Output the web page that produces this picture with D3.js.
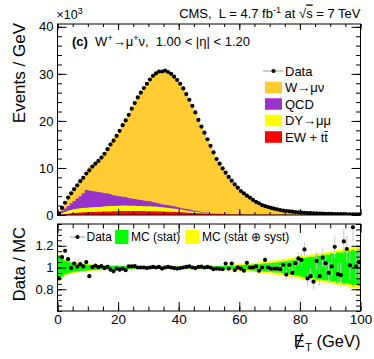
<!DOCTYPE html>
<html><head><meta charset="utf-8">
<script src="https://cdn.jsdelivr.net/npm/d3@7"></script>
<style>
body{margin:0;background:#fff}
svg{display:block}
text{font-family:"Liberation Sans",Arial,Helvetica,sans-serif;fill:#000;white-space:pre}
</style>
</head><body>
<svg id="chart" width="374" height="359"></svg>
<script>
// ---------- DATA (1 GeV bins from 0 to 100 GeV; yields in thousands of events / GeV) ----------
const binLow = d3.range(0, 100);

const dataYield = [
 0.35,1.5,2.6,3.7,4.6,5.5,6.3,7.2,7.9,8.8,
 9.5,10.3,10.9,11.5,12.2,13.0,14.0,15.0,15.8,16.8,
 17.9,19.1,20.1,21.3,22.6,23.8,25.0,26.0,27.0,27.9,
 28.8,29.6,30.1,30.5,30.5,30.7,30.4,30.0,29.4,28.7,
 27.9,26.9,25.7,24.5,23.2,21.8,20.2,18.8,17.5,16.1,
 14.7,13.3,11.9,10.9,9.9,9.0,8.1,7.3,6.5,5.8,
 5.1,4.6,4.1,3.7,3.2,2.8,2.5,2.1,1.9,1.7,
 1.5,1.35,1.2,1.05,0.95,0.85,0.78,0.7,0.63,0.57,
 0.52,0.47,0.43,0.39,0.36,0.33,0.30,0.28,0.26,0.24,
 0.22,0.20,0.19,0.18,0.17,0.16,0.15,0.14,0.13,0.12];

const wmunu = [
 0.09,0.47,0.85,1.54,2.12,2.30,2.76,2.98,3.22,3.08,
 5.13,5.17,5.71,6.57,7.26,8.47,9.32,10.91,12.17,12.87,
 14.27,15.39,16.82,17.49,18.88,20.12,21.70,22.80,23.90,25.04,
 25.90,26.70,27.50,27.90,28.51,28.50,28.15,28.05,27.70,27.29,
 26.49,25.50,24.27,23.11,22.20,21.03,19.32,17.97,16.90,15.50,
 14.25,13.10,11.67,10.72,9.78,8.44,7.97,6.86,6.49,5.65,
 5.01,4.62,3.81,3.59,3.11,2.68,2.51,2.03,1.71,1.65,
 1.47,1.31,1.17,1.03,0.89,0.87,0.72,0.71,0.58,0.50,
 0.46,0.37,0.45,0.39,0.38,0.28,0.30,0.23,0.22,0.22,
 0.20,0.15,0.18,0.17,0.12,0.12,0.13,0.08,0.11,0.09];

const qcd = [
 0.15,0.50,0.75,1.02,1.42,1.76,2.16,2.58,3.12,3.75,
 3.60,3.45,3.30,3.18,3.02,2.75,2.72,2.50,2.28,2.15,
 2.02,1.90,1.80,1.62,1.54,1.46,1.40,1.30,1.22,1.14,
 1.06,0.93,0.80,0.73,0.64,0.60,0.60,0.53,0.50,0.42,
 0.35,0.32,0.34,0.30,0.24,0.20,0.18,0.15,0.12,0.08,
 0.06,0.05,0.03,0.02,0.01,0.01,0.01,0.01,0.01,0.01,
 0.01,0.01,0.01,0.01,0.01,0.01,0,0,0,0,
 0,0,0,0,0,0,0,0,0,0,
 0,0,0,0,0,0,0,0,0,0,
 0,0,0,0,0,0,0,0,0,0];

const dymumu = [
 0.10,0.28,0.45,0.60,0.72,0.82,0.86,0.89,0.92,0.95,
 0.98,1.01,1.04,1.02,1.08,1.13,1.14,1.14,1.14,1.13,
 1.14,1.15,1.14,1.14,1.10,1.09,1.06,1.04,1.05,1.04,
 1.04,1.04,1.00,0.96,0.92,0.90,0.82,0.76,0.71,0.64,
 0.60,0.52,0.44,0.37,0.32,0.26,0.22,0.18,0.16,0.14,
 0.12,0.11,0.10,0.09,0.08,0.07,0.06,0.05,0.05,0.04,
 0.04,0.03,0.03,0.03,0.02,0.02,0.02,0.02,0.02,0.01,
 0.01,0.01,0.01,0.01,0.01,0.01,0.01,0.01,0.01,0.01,
 0.01,0.01,0.01,0.01,0.01,0.01,0.01,0.01,0.01,0.01,
 0.01,0.01,0.01,0.01,0.01,0.01,0.01,0.01,0.01,0.01];

const ewtt = [
 0.05,0.12,0.20,0.28,0.36,0.42,0.48,0.53,0.56,0.60,
 0.62,0.64,0.66,0.70,0.70,0.72,0.74,0.76,0.78,0.82,
 0.84,0.85,0.86,0.84,0.86,0.85,0.84,0.86,0.83,0.82,
 0.80,0.78,0.80,0.76,0.74,0.70,0.68,0.66,0.64,0.64,
 0.60,0.56,0.52,0.48,0.44,0.42,0.38,0.35,0.32,0.30,
 0.27,0.24,0.22,0.20,0.18,0.16,0.14,0.12,0.11,0.10,
 0.09,0.08,0.08,0.07,0.06,0.06,0.05,0.05,0.05,0.04,
 0.04,0.04,0.03,0.03,0.03,0.03,0.03,0.02,0.02,0.02,
 0.02,0.02,0.02,0.02,0.02,0.02,0.02,0.02,0.02,0.02,
 0.01,0.01,0.01,0.01,0.01,0.01,0.01,0.01,0.01,0.01];

const ratio = [
 0.90,1.096,1.154,1.077,0.995,1.037,1.006,1.031,1.01,1.05,
 0.92,1.003,1.018,1.003,1.012,0.995,1.006,0.98,0.965,0.99,
 0.98,0.99,0.975,1.01,1.01,1.012,1.0,1.0,1.0,0.995,
 1.0,1.005,1.0,1.005,0.99,1.0,1.005,1.0,0.995,0.99,
 0.995,1.0,1.005,1.01,1.0,0.995,1.005,1.008,1.0,1.005,
 1.0,0.985,0.99,0.988,0.985,1.037,0.99,1.037,0.976,1.0,
 0.99,0.97,1.043,1.0,1.0,1.01,0.97,1.0,1.07,1.0,
 0.99,0.99,0.99,0.985,1.025,0.935,1.025,0.95,1.04,1.083,
 1.07,1.166,0.90,0.92,0.87,1.06,0.92,1.09,1.04,0.95,
 1.01,1.19,0.94,0.93,1.24,1.17,1.02,1.37,1.01,1.05];

const ratioErr = [
 0.012,0.008,0.007,0.006,0.006,0.005,0.005,0.005,0.005,0.005,
 0.005,0.005,0.005,0.005,0.005,0.005,0.005,0.005,0.005,0.005,
 0.005,0.005,0.005,0.005,0.005,0.005,0.005,0.005,0.005,0.005,
 0.005,0.005,0.005,0.005,0.005,0.005,0.005,0.005,0.005,0.005,
 0.005,0.005,0.005,0.005,0.005,0.005,0.006,0.006,0.006,0.007,
 0.007,0.008,0.008,0.009,0.01,0.011,0.012,0.013,0.014,0.015,
 0.017,0.018,0.02,0.022,0.024,0.026,0.028,0.03,0.032,0.034,
 0.036,0.038,0.04,0.042,0.045,0.047,0.05,0.053,0.056,0.058,
 0.06,0.064,0.068,0.07,0.075,0.08,0.084,0.088,0.092,0.096,
 0.10,0.104,0.108,0.112,0.116,0.12,0.125,0.13,0.135,0.14];

const statErr = [
 0.110,0.085,0.065,0.055,0.045,0.040,0.035,0.032,0.030,0.027,
 0.025,0.023,0.022,0.020,0.019,0.018,0.017,0.016,0.015,0.015,
 0.014,0.013,0.013,0.012,0.012,0.011,0.011,0.010,0.010,0.010,
 0.010,0.010,0.010,0.010,0.010,0.010,0.010,0.010,0.010,0.010,
 0.010,0.010,0.010,0.010,0.010,0.010,0.010,0.011,0.011,0.011,
 0.011,0.012,0.012,0.013,0.014,0.015,0.016,0.017,0.018,0.020,
 0.021,0.022,0.024,0.026,0.027,0.029,0.031,0.034,0.036,0.039,
 0.042,0.045,0.047,0.050,0.055,0.058,0.062,0.066,0.070,0.075,
 0.085,0.088,0.095,0.10,0.098,0.11,0.105,0.115,0.12,0.118,
 0.13,0.125,0.14,0.135,0.15,0.14,0.155,0.16,0.15,0.17];

const totErr = [
 0.120,0.095,0.075,0.065,0.055,0.050,0.045,0.040,0.037,0.034,
 0.032,0.030,0.028,0.026,0.025,0.024,0.023,0.022,0.021,0.020,
 0.019,0.018,0.018,0.017,0.017,0.016,0.016,0.015,0.015,0.015,
 0.015,0.015,0.015,0.015,0.015,0.015,0.015,0.015,0.015,0.015,
 0.015,0.015,0.016,0.016,0.016,0.016,0.017,0.017,0.017,0.018,
 0.018,0.019,0.020,0.021,0.022,0.024,0.026,0.027,0.029,0.031,
 0.033,0.035,0.037,0.039,0.041,0.043,0.046,0.050,0.053,0.057,
 0.062,0.065,0.068,0.072,0.076,0.080,0.084,0.088,0.092,0.098,
 0.105,0.11,0.115,0.12,0.122,0.13,0.13,0.135,0.14,0.145,
 0.15,0.15,0.16,0.16,0.17,0.17,0.18,0.19,0.19,0.20];

const yTicksTop = [0, 10, 20, 30, 40];
const xTicks = [0, 20, 40, 60, 80, 100];
const yTicksRatio = [0.8, 1, 1.2];

const legendTop = [
  {key:"w",   label:"W\u2192\u03bc\u03bd"},
  {key:"qcd", label:"QCD"},
  {key:"dy",  label:"DY\u2192\u03bc\u03bc"},
  {key:"ew",  label:"EW + tt\u0304"}
];
const colors = {w:"#ffcc33", qcd:"#9933cc", dy:"#ffff00", ew:"#ff0000"};

// ---------- LAYOUT ----------
const svg = d3.select("#chart");
const X0 = 57.5, X1 = 360.5;
const topY0 = 24, topY1 = 215;
const rY0 = 224, rY1 = 311;

const x = d3.scaleLinear().domain([0, 100]).range([X0, X1]);
const yTop = d3.scaleLinear().domain([0, 40.6]).range([topY1, topY0]);
const yR = d3.scaleLinear().domain([0.6, 1.4]).range([rY1, rY0]);

const defs = svg.append("defs");
defs.append("clipPath").attr("id","clipTop").append("rect")
  .attr("x",X0).attr("y",topY0).attr("width",X1-X0).attr("height",topY1-topY0);
defs.append("clipPath").attr("id","clipR").append("rect")
  .attr("x",X0).attr("y",rY0).attr("width",X1-X0).attr("height",rY1-rY0);

// ---------- TOP PANEL: stacked histograms ----------
const rows = binLow.map((b,i)=>({bin:b, ew:ewtt[i], dy:dymumu[i], qcd:qcd[i], w:wmunu[i]}));
const stacked = d3.stack().keys(["ew","dy","qcd","w"])(rows);

const stepArea = (yScale) => d3.area()
  .x(d=>x(d.x)).y0(d=>yScale(d.y0)).y1(d=>yScale(d.y1));

const gTop = svg.append("g").attr("clip-path","url(#clipTop)");
stacked.slice().reverse().forEach(layer=>{
  const pts = [];
  layer.forEach((s,i)=>{
    pts.push({x:binLow[i], y0:0, y1:s[1]});
    pts.push({x:binLow[i]+1, y0:0, y1:s[1]});
  });
  gTop.append("path").attr("d", stepArea(yTop)(pts))
    .attr("fill", colors[layer.key]).attr("stroke","none");
});

gTop.selectAll("circle.data").data(dataYield).enter().append("circle")
  .attr("cx",(d,i)=>x(binLow[i]+0.5)).attr("cy",d=>yTop(d)).attr("r",2.1).attr("fill","#000");

// ---------- RATIO PANEL ----------
const gR = svg.append("g").attr("clip-path","url(#clipR)");
function bandPts(err){
  const pts=[];
  binLow.forEach((b,i)=>{
    pts.push({x:b, y0:1-err[i], y1:1+err[i]});
    pts.push({x:b+1, y0:1-err[i], y1:1+err[i]});
  });
  return pts;
}
gR.append("path").attr("d", stepArea(yR)(bandPts(totErr))).attr("fill","#ffff00");
gR.append("path").attr("d", stepArea(yR)(bandPts(statErr))).attr("fill","#00ff00");

gR.selectAll("line.err").data(ratio).enter().append("line")
  .attr("x1",(d,i)=>x(binLow[i]+0.5)).attr("x2",(d,i)=>x(binLow[i]+0.5))
  .attr("y1",(d,i)=>yR(d-ratioErr[i])).attr("y2",(d,i)=>yR(d+ratioErr[i]))
  .attr("stroke","#c8c8c8").attr("stroke-width",1);
gR.selectAll("circle.r").data(ratio).enter().append("circle")
  .attr("cx",(d,i)=>x(binLow[i]+0.5)).attr("cy",d=>yR(d)).attr("r",2.1).attr("fill","#000");

// ---------- AXES ----------
function addAxis(axisGen, tx, ty, fontSize){
  const g = svg.append("g").attr("transform",`translate(${tx},${ty})`).call(axisGen);
  g.select(".domain").remove();
  g.selectAll(".tick line").attr("stroke","#000").attr("stroke-width",1);
  g.selectAll("text").attr("font-size",fontSize).attr("font-family",'"Liberation Sans",Arial,sans-serif').attr("fill","#000");
  return g;
}
const fmtR = d => d===1 ? "1" : d3.format(".1f")(d);
const none = () => "";

// top panel
addAxis(d3.axisLeft(yTop).tickValues(yTicksTop).tickSize(-9).tickPadding(4).tickFormat(d=>d), X0, 0, 13);
addAxis(d3.axisLeft(yTop).tickValues(d3.range(0,41,2)).tickSize(-4.5).tickFormat(none), X0, 0, 0);
addAxis(d3.axisRight(yTop).tickValues(yTicksTop).tickSize(-9).tickFormat(none), X1, 0, 0);
addAxis(d3.axisRight(yTop).tickValues(d3.range(0,41,2)).tickSize(-4.5).tickFormat(none), X1, 0, 0);
addAxis(d3.axisBottom(x).tickValues(xTicks).tickSize(-6).tickFormat(none), 0, topY1, 0);
addAxis(d3.axisBottom(x).tickValues(d3.range(0,101,5)).tickSize(-3).tickFormat(none), 0, topY1, 0);
addAxis(d3.axisTop(x).tickValues(xTicks).tickSize(-6).tickFormat(none), 0, topY0, 0);
addAxis(d3.axisTop(x).tickValues(d3.range(0,101,5)).tickSize(-3).tickFormat(none), 0, topY0, 0);

// ratio panel
addAxis(d3.axisLeft(yR).tickValues(yTicksRatio).tickSize(-9).tickPadding(4).tickFormat(fmtR), X0, 0, 13);
addAxis(d3.axisLeft(yR).tickValues(d3.range(0.6,1.401,0.05)).tickSize(-4.5).tickFormat(none), X0, 0, 0);
addAxis(d3.axisRight(yR).tickValues(yTicksRatio).tickSize(-9).tickFormat(none), X1, 0, 0);
addAxis(d3.axisRight(yR).tickValues(d3.range(0.6,1.401,0.05)).tickSize(-4.5).tickFormat(none), X1, 0, 0);
const gxb = addAxis(d3.axisBottom(x).tickValues(xTicks).tickSize(-9).tickPadding(3).tickFormat(d=>d), 0, rY1, 13.5);
gxb.selectAll("text").attr("dy","0.71em").attr("y",3);
addAxis(d3.axisBottom(x).tickValues(d3.range(0,101,5)).tickSize(-4.5).tickFormat(none), 0, rY1, 0);
addAxis(d3.axisTop(x).tickValues(xTicks).tickSize(-9).tickFormat(none), 0, rY0, 0);
addAxis(d3.axisTop(x).tickValues(d3.range(0,101,5)).tickSize(-4.5).tickFormat(none), 0, rY0, 0);

// frames
[[topY0,topY1],[rY0,rY1]].forEach(([a,b])=>{
  svg.append("rect").attr("x",X0).attr("y",a).attr("width",X1-X0).attr("height",b-a)
    .attr("fill","none").attr("stroke","#000").attr("stroke-width",1);
});

// ---------- TEXTS ----------
// header
const hdr = svg.append("text").attr("x",X1).attr("y",17.5).attr("text-anchor","end").attr("font-size",13);
hdr.append("tspan").text("CMS,  L = 4.7 fb");
hdr.append("tspan").attr("font-size",9).attr("dy",-5).text("-1");
hdr.append("tspan").attr("dy",5).text(" at ");
hdr.append("tspan").text("\u221a");
hdr.append("tspan").style("text-decoration","overline").text("s");
hdr.append("tspan").text(" = 7 TeV");

// x10^3
const mult = svg.append("text").attr("x",56.5).attr("y",19).attr("font-size",12.5);
mult.append("tspan").text("\u00d710");
mult.append("tspan").attr("font-size",9).attr("dy",-5).text("3");

// panel label
const pl = svg.append("text").attr("x",72).attr("y",46).attr("font-size",13);
pl.append("tspan").attr("font-weight","bold").text("(c)");
pl.append("tspan").text("  W");
pl.append("tspan").attr("font-size",9).attr("dy",-5).text("+");
pl.append("tspan").attr("dy",5).text("\u2192\u03bc");
pl.append("tspan").attr("font-size",9).attr("dy",-5).text("+");
pl.append("tspan").attr("dy",5).text("\u03bd,  1.00 < |\u03b7| < 1.20");

// axis titles
svg.append("text").attr("transform","translate(24.5,23) rotate(-90)").attr("text-anchor","end")
  .attr("font-size",17).text("Events / GeV");
svg.append("text").attr("transform","translate(24.5,227) rotate(-90)").attr("text-anchor","end")
  .attr("font-size",16.5).text("Data / MC");
const xt = svg.append("text").attr("x",X1).attr("y",347).attr("text-anchor","end").attr("font-size",16.5);
xt.append("tspan").text("E");
xt.append("tspan").attr("dy",4).attr("font-size",11.5).text("T");
xt.append("tspan").attr("dy",-4).text(" (GeV)");
// slash through the E (missing transverse energy symbol)
{
  const node = xt.node();
  const p0 = node.getStartPositionOfChar(0);
  const p1 = node.getEndPositionOfChar(0);
  const cx = (p0.x + p1.x) / 2;
  svg.append("line").attr("x1",cx-3.2).attr("y1",349).attr("x2",cx+3.2).attr("y2",333)
    .attr("stroke","#000").attr("stroke-width",1.2);
}

// top legend
const lgX = 265, lgW = 17, lgH = 11.5;
const lgRowY = [71, 87.5, 104, 120.5, 137];
svg.append("line").attr("x1",lgX-2).attr("x2",lgX+lgW+1).attr("y1",lgRowY[0]).attr("y2",lgRowY[0])
  .attr("stroke","#999").attr("stroke-width",1);
svg.append("circle").attr("cx",lgX+lgW/2).attr("cy",lgRowY[0]).attr("r",2.1).attr("fill","#000");
svg.append("text").attr("x",lgX+20).attr("y",lgRowY[0]+4.7).attr("font-size",13).text("Data");
legendTop.forEach((d,i)=>{
  const cy = lgRowY[i+1];
  svg.append("rect").attr("x",lgX).attr("y",cy-lgH/2).attr("width",lgW).attr("height",lgH).attr("fill",colors[d.key]);
  svg.append("text").attr("x",lgX+20).attr("y",cy+4.7).attr("font-size",13).text(d.label);
});

// ratio legend
const rlY = 237;
svg.append("line").attr("x1",70).attr("x2",85).attr("y1",rlY).attr("y2",rlY).attr("stroke","#999");
svg.append("circle").attr("cx",77.5).attr("cy",rlY).attr("r",2.1).attr("fill","#000");
svg.append("text").attr("x",86.5).attr("y",rlY+4.3).attr("font-size",12).text("Data");
svg.append("rect").attr("x",115).attr("y",rlY-7).attr("width",13.5).attr("height",14).attr("fill","#00ff00");
svg.append("text").attr("x",131).attr("y",rlY+4.3).attr("font-size",12).text("MC (stat)");
svg.append("rect").attr("x",185).attr("y",rlY-7).attr("width",14).attr("height",14).attr("fill","#ffff00");
svg.append("text").attr("x",202).attr("y",rlY+4.3).attr("font-size",12).text("MC (stat \u2295 syst)");
</script>
</body></html>
